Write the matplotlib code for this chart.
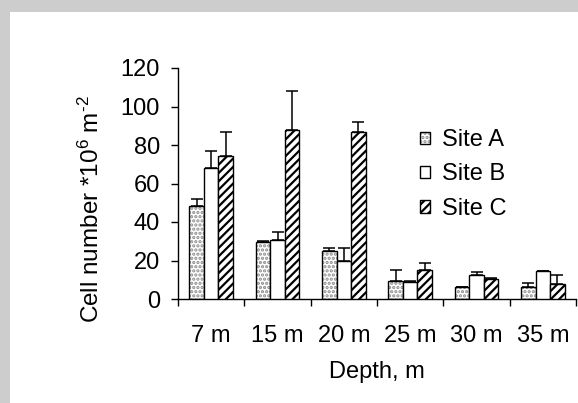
import matplotlib
matplotlib.use("Agg")
import matplotlib.pyplot as plt
from matplotlib.patches import Patch, Rectangle
import numpy as np

# cell counts per depth and site (mean, upper error)
depths = ["7 m", "15 m", "20 m", "25 m", "30 m", "35 m"]
sites = ["Site A", "Site B", "Site C"]
site_a = [48.5, 29.7, 24.9, 9.1, 6.2, 6.2]
site_b = [68.0, 30.5, 19.5, 8.8, 12.3, 14.7]
site_c = [74.4, 87.6, 87.0, 14.9, 10.5, 7.6]
err_a = [3.3, 0.5, 1.7, 6.1, 0.0, 2.3]
err_b = [8.7, 4.5, 7.1, 0.4, 1.7, 0.0]
err_c = [12.6, 20.7, 4.8, 4.0, 0.5, 4.7]

plt.rcParams["font.family"] = ["Liberation Sans", "DejaVu Sans"]
plt.rcParams["mathtext.default"] = "regular"
plt.rcParams["hatch.linewidth"] = 1.6

FS = 17

fig = plt.figure(figsize=(5.78, 4.03), dpi=100, facecolor="#cdcdcd")
# white sheet behind the chart
fig.patches.append(Rectangle((10 / 578, 0), 1, 1 - 12 / 403, transform=fig.transFigure,
                             facecolor="white", edgecolor="none", zorder=-5))

ax = fig.add_axes([178 / 578, 1 - 299 / 403, 398 / 578, 231 / 403])
ax.set_facecolor("none")
ax.set_zorder(1)

x = np.arange(len(depths))
w = 0.22

# Site A: grey dots under a black outline
ax.bar(x - w, site_a, w, color="white", edgecolor="#8c8c8c", hatch="....", linewidth=0, zorder=2)
ax.bar(x - w, site_a, w, fill=False, edgecolor="black", linewidth=1.0, zorder=3)
ax.bar(x, site_b, w, color="white", edgecolor="black", linewidth=1.0, zorder=3)
ax.bar(x + w, site_c, w, color="white", edgecolor="black", hatch="////", linewidth=1.0, zorder=3)

zeros = [0] * len(depths)
for off, vals, errs in [(-w, site_a, err_a), (0, site_b, err_b), (w, site_c, err_c)]:
    ax.errorbar(x + off, vals, yerr=[zeros, errs], fmt="none", ecolor="black",
                elinewidth=1.1, capsize=4, capthick=1.1, zorder=4)

ax.set_xlim(-0.5, len(depths) - 0.5)
ax.set_ylim(0, 120)
ax.set_yticks(range(0, 121, 20))

ax.set_xticks(np.arange(len(depths) + 1) - 0.5)
ax.set_xticklabels([])
ax.set_xticks(x, minor=True)
ax.set_xticklabels(depths, minor=True)
ax.tick_params(axis="x", which="major", direction="out", length=5, width=1)
ax.tick_params(axis="x", which="minor", length=0, pad=19, labelsize=FS)
ax.tick_params(axis="y", direction="out", length=5, width=1, pad=8, labelsize=FS)

for side in ["top", "right"]:
    ax.spines[side].set_visible(False)
for side in ["left", "bottom"]:
    ax.spines[side].set_linewidth(1.0)

ax.set_xlabel("Depth, m", fontsize=FS, labelpad=10)
ax.set_ylabel("Cell number *10$^6$ m$^{\u2010 2}$", fontsize=17.5)
ax.yaxis.set_label_coords(-0.185, 0.39)

handles = [
    (Patch(facecolor="white", edgecolor="#8c8c8c", hatch="....", linewidth=0),
     Patch(fill=False, edgecolor="black", linewidth=1.0)),
    Patch(facecolor="white", edgecolor="black", linewidth=1.0),
    Patch(facecolor="white", edgecolor="black", hatch="////", linewidth=1.0),
]
ax.legend(handles, sites, loc="upper left", bbox_to_anchor=(0.608, 0.735), frameon=False,
          fontsize=FS, handlelength=0.43, handleheight=0.43, handletextpad=0.5,
          labelspacing=0.52, borderpad=0, borderaxespad=0)

fig.savefig("out.png", dpi=100, facecolor=fig.get_facecolor())
